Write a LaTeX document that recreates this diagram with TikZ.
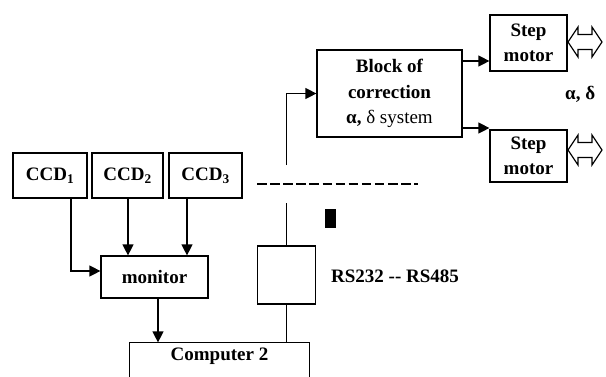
\documentclass[tikz,border=0pt]{standalone}
\usepackage{fontspec}
\setmainfont{Liberation Serif}
\usetikzlibrary{arrows.meta,calc}
\begin{document}
\begin{tikzpicture}[x=1pt,y=1pt,
  txt/.style={font=\fontsize{19}{25.5}\selectfont\bfseries},
  box/.style={txt,draw,line width=1.2pt,inner sep=0pt,align=center},
  conn/.style={line width=1.2pt},
  arr/.style={conn,-{Triangle[length=11pt,width=11pt]}},
  dbl/.pic={\draw[line width=1.2pt] (-17,0) -- (-7,15) -- (-7,7.5) -- (7,7.5) -- (7,15) -- (17,0) -- (7,-15) -- (7,-7.5) -- (-7,-7.5) -- (-7,-15) -- cycle;}]
\useasboundingbox (0,0) rectangle (606,-376);
% boxes
\node[box,minimum width=74,minimum height=45] (ccd1) at (50,-175.5) {CCD\textsubscript{1}};
\node[box,minimum width=71,minimum height=45] (ccd2) at (127.5,-175.5) {CCD\textsubscript{2}};
\node[box,minimum width=73,minimum height=45] (ccd3) at (205.5,-175.5) {CCD\textsubscript{3}};
\node[box,minimum width=107,minimum height=42] (monitor) at (154.5,-277) {monitor};
\node[box,draw=none,minimum width=179,minimum height=26] (comp) at (219.5,-356) {Computer 2};
\draw[conn] ([yshift=-40pt]comp.south west) |- (comp.north east) -- ++(0,-60);
\node[box,minimum width=58,minimum height=58] (rs) at (286.5,-275) {};
\node[box,minimum width=145,minimum height=87] (block) at (389.5,-93.5) {Block of\\correction\\α, {\mdseries δ system}};
\node[box,minimum width=77,minimum height=56] (stepA) at (528.5,-43) {Step\\motor};
\node[box,minimum width=77,minimum height=52] (stepB) at (528.5,-156) {Step\\motor};
% labels
\node[txt,anchor=west,inner sep=0pt] (ad) at (565,-94) {α, δ};
\node[txt,anchor=west,inner sep=0pt] (rslbl) at (331,-276) {RS232 {-}{-} RS485};
\node[fill=black,minimum width=11,minimum height=19,inner sep=0pt] (blk) at (330.5,-218.5) {};
% connectors
\draw[arr] ([xshift=21pt]ccd1.south) |- ([yshift=6pt]monitor.west);
\draw[arr] ([xshift=0.5pt]ccd2.south) -- ([xshift=0.5pt]ccd2.south |- monitor.north);
\draw[arr] ([xshift=-18.5pt]ccd3.south) -- ([xshift=-18.5pt]ccd3.south |- monitor.north);
\draw[arr] ([xshift=3.5pt]monitor.south) -- ([xshift=3.5pt]monitor.south |- comp.north);
\coordinate (rsTop) at (286.5,-203);
\draw[conn] (rsTop) -- (rs.north);
\draw[conn] (rs.south) -- (rs.south |- comp.north);
\coordinate (upStart) at (286.5,-165);
\draw[arr] (upStart) |- (block.west);
\draw[arr] ([yshift=32.5pt]block.east) -- ([yshift=32.5pt]block.east -| stepA.west);
\draw[arr] ([yshift=-34.5pt]block.east) -- ([yshift=-34.5pt]block.east -| stepB.west);
\coordinate (dL) at (257,-184);
\coordinate (dR) at (418,-184);
\draw[conn,dash pattern=on 9.5pt off 3.6pt] (dL) -- (dR);
\pic at (585,-42) {dbl};
\pic at (585,-150) {dbl};
\end{tikzpicture}
\end{document}
